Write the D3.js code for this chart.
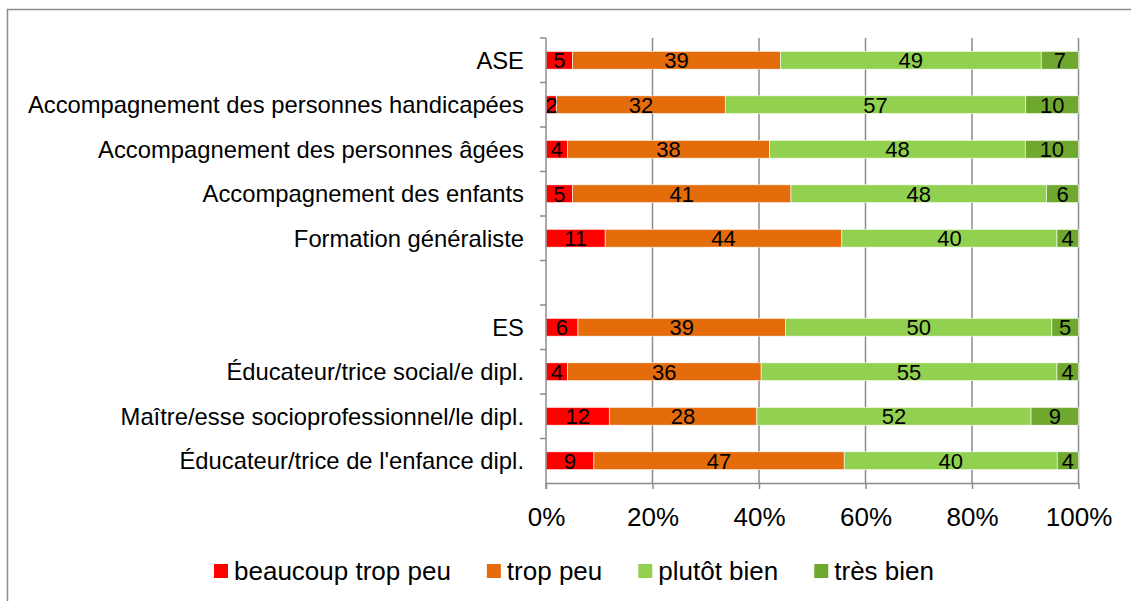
<!DOCTYPE html>
<html>
<head>
<meta charset="utf-8">
<script src="https://cdn.jsdelivr.net/npm/d3@7"></script>
<style>
  body { margin: 0; background: #fff; }
  svg { display: block; font-family: "Liberation Sans", Arial, sans-serif; }
</style>
</head>
<body>
<svg id="chart"></svg>
<script>
// categories, top to bottom ("" = empty spacer row)
var categories = [
  "ASE",
  "Accompagnement des personnes handicapées",
  "Accompagnement des personnes âgées",
  "Accompagnement des enfants",
  "Formation généraliste",
  "",
  "ES",
  "Éducateur/trice social/e dipl.",
  "Maître/esse socioprofessionnel/le dipl.",
  "Éducateur/trice de l'enfance dipl."
];
var seriesNames = ["beaucoup trop peu", "trop peu", "plutôt bien", "très bien"];
var beaucoupTropPeu = [5, 2, 4, 5, 11, null, 6, 4, 12, 9];
var tropPeu         = [39, 32, 38, 41, 44, null, 39, 36, 28, 47];
var plutotBien      = [49, 57, 48, 48, 40, null, 50, 55, 52, 40];
var tresBien        = [7, 10, 10, 6, 4, null, 5, 4, 9, 4];
var tickValues = [0, 0.2, 0.4, 0.6, 0.8, 1];
var colors = ["#ff0000", "#e46c0a", "#92d050", "#6ea82f"];

var width = 1131, height = 601;
var plotL = 546, plotR = 1078.5, plotT = 38, plotB = 483;
var gridColor = "#8c8c8c";

// build rows, key by index so the blank row stays unique
var rows = categories.map(function(c, i) {
  return {
    key: "r" + i, label: c,
    "beaucoup trop peu": beaucoupTropPeu[i] || 0,
    "trop peu": tropPeu[i] || 0,
    "plutôt bien": plutotBien[i] || 0,
    "très bien": tresBien[i] || 0,
    empty: beaucoupTropPeu[i] == null
  };
});

var stack = d3.stack().keys(seriesNames).offset(d3.stackOffsetExpand);
var layers = stack(rows.filter(function(r) { return !r.empty; }));

var x = d3.scaleLinear().domain([0, 1]).range([plotL, plotR]);
var y = d3.scaleBand().domain(rows.map(function(r) { return r.key; }))
  .range([plotT, plotB]).paddingInner(0.6).paddingOuter(0.3);
var band = d3.scaleBand().domain(rows.map(function(r) { return r.key; }))
  .range([plotT, plotB]);

var svg = d3.select("#chart").attr("width", width).attr("height", height);

// outer frame
svg.append("rect")
  .attr("x", 7.5).attr("y", 9.5)
  .attr("width", width + 20).attr("height", height + 20)
  .attr("fill", "none").attr("stroke", gridColor).attr("stroke-width", 1.5);

// vertical gridlines
svg.append("g").selectAll("line")
  .data(tickValues.slice(1))
  .join("line")
  .attr("x1", function(d) { return x(d); }).attr("x2", function(d) { return x(d); })
  .attr("y1", plotT).attr("y2", plotB)
  .attr("stroke", gridColor).attr("stroke-width", 1.5);

// bars
var g = svg.append("g");
layers.forEach(function(layer, li) {
  g.selectAll(null)
    .data(layer)
    .join("rect")
    .attr("x", function(d) { return x(d[0]); })
    .attr("y", function(d) { return y(d.data.key); })
    .attr("width", function(d) { return x(d[1]) - x(d[0]); })
    .attr("height", y.bandwidth())
    .attr("fill", colors[li])
    .attr("stroke", "#fff").attr("stroke-width", 0.6);
});

// data labels
layers.forEach(function(layer, li) {
  g.selectAll(null)
    .data(layer)
    .join("text")
    .attr("x", function(d) { return (x(d[0]) + x(d[1])) / 2; })
    .attr("y", function(d) { return y(d.data.key) + y.bandwidth() / 2; })
    .attr("dy", "0.36em")
    .attr("text-anchor", "middle")
    .attr("font-size", "22px")
    .attr("fill", "#000")
    .text(function(d) { return d.data[layer.key]; });
});

// y axis: line, ticks at band edges, labels
var yAxis = svg.append("g");
yAxis.append("line")
  .attr("x1", plotL).attr("x2", plotL).attr("y1", plotT).attr("y2", plotB + 6)
  .attr("stroke", gridColor).attr("stroke-width", 1.5);
yAxis.selectAll(".tk")
  .data(rows)
  .join("line")
  .attr("x1", plotL - 6).attr("x2", plotL)
  .attr("y1", function(d) { return band(d.key); })
  .attr("y2", function(d) { return band(d.key); })
  .attr("stroke", gridColor).attr("stroke-width", 1.5);
yAxis.selectAll("text")
  .data(rows)
  .join("text")
  .attr("x", 524)
  .attr("y", function(d) { return band(d.key) + band.bandwidth() / 2; })
  .attr("dy", "0.36em")
  .attr("text-anchor", "end")
  .attr("font-size", "23.8px")
  .attr("fill", "#000")
  .text(function(d) { return d.label; });

// x axis
var xAxis = svg.append("g").attr("transform", "translate(0," + plotB + ")")
  .call(d3.axisBottom(x).tickValues(tickValues).tickFormat(d3.format(".0%"))
    .tickSizeInner(6).tickSizeOuter(0).tickPadding(19));
xAxis.select(".domain").attr("stroke", gridColor).attr("stroke-width", 1.5);
xAxis.selectAll(".tick line").attr("stroke", gridColor).attr("stroke-width", 1.5);
xAxis.selectAll(".tick text")
  .attr("font-family", "'Liberation Sans', Arial, sans-serif")
  .attr("font-size", "26px").attr("fill", "#000");

// legend
var legend = svg.append("g");
var lx = 214;
seriesNames.forEach(function(name, i) {
  legend.append("rect")
    .attr("x", lx).attr("y", 564)
    .attr("width", 14).attr("height", 14)
    .attr("fill", colors[i]);
  var t = legend.append("text")
    .attr("x", lx + 20).attr("y", 580)
    .attr("font-size", "26px").attr("fill", "#000")
    .text(name);
  lx += 20 + t.node().getComputedTextLength() + 36;
});
</script>
</body>
</html>
